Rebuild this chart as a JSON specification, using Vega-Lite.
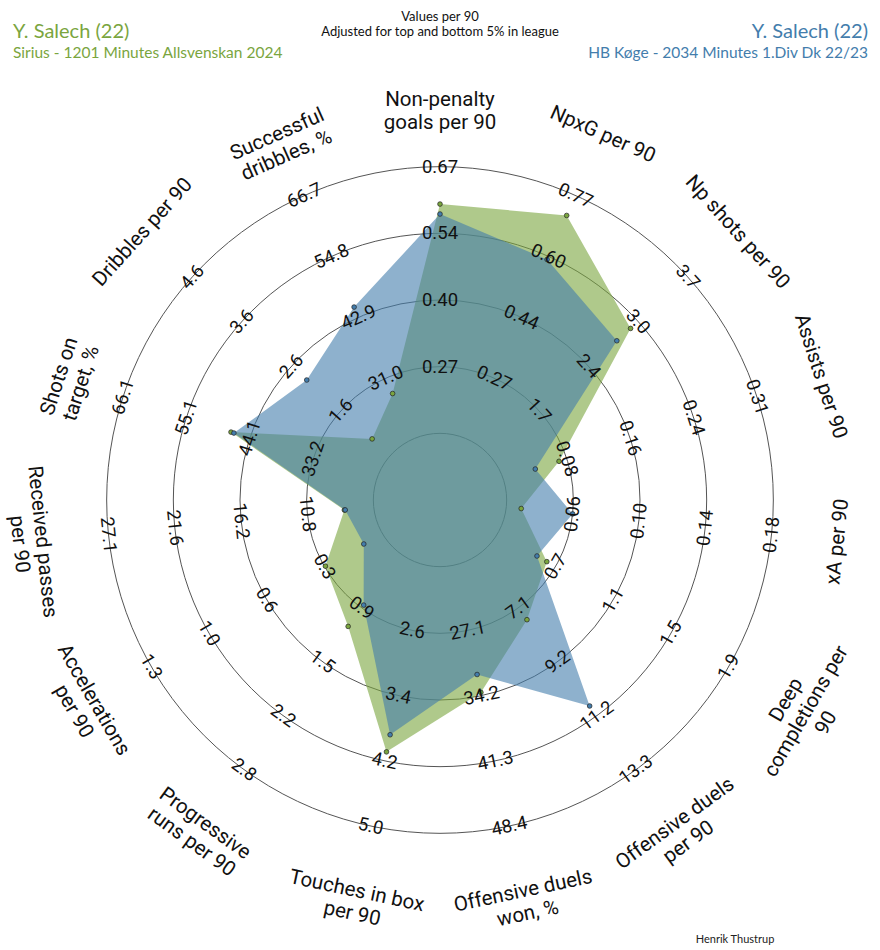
{
  "$schema": "https://vega.github.io/schema/vega-lite/v6.json",
  "width": 880,
  "height": 950,
  "padding": 0,
  "autosize": {"type": "none"},
  "background": "white",
  "config": {"view": {"stroke": null}},
  "datasets": {
    "rings": [{"u": 1}, {"u": 2}, {"u": 3}, {"u": 4}, {"u": 5}],
    "params": [
      {"k": 1, "name": "Non-penalty\ngoals per 90", "lo": 0.135, "hi": 0.67, "l2": "0.27", "l3": "0.40", "l4": "0.54", "l5": "0.67"},
      {"k": 2, "name": "NpxG per 90", "lo": 0.10, "hi": 0.77, "l2": "0.27", "l3": "0.44", "l4": "0.60", "l5": "0.77"},
      {"k": 3, "name": "Np shots per 90", "lo": 1.03, "hi": 3.7, "l2": "1.7", "l3": "2.4", "l4": "3.0", "l5": "3.7"},
      {"k": 4, "name": "Assists per 90", "lo": 0.0, "hi": 0.31, "l2": "0.08", "l3": "0.16", "l4": "0.24", "l5": "0.31"},
      {"k": 5, "name": "xA per 90", "lo": 0.02, "hi": 0.18, "l2": "0.06", "l3": "0.10", "l4": "0.14", "l5": "0.18"},
      {"k": 6, "name": "Deep\ncompletions per\n90", "lo": 0.3, "hi": 1.9, "l2": "0.7", "l3": "1.1", "l4": "1.5", "l5": "1.9"},
      {"k": 7, "name": "Offensive duels\nper 90", "lo": 5.0, "hi": 13.3, "l2": "7.1", "l3": "9.2", "l4": "11.2", "l5": "13.3"},
      {"k": 8, "name": "Offensive duels\nwon, %", "lo": 20.0, "hi": 48.4, "l2": "27.1", "l3": "34.2", "l4": "41.3", "l5": "48.4"},
      {"k": 9, "name": "Touches in box\nper 90", "lo": 1.8, "hi": 5.0, "l2": "2.6", "l3": "3.4", "l4": "4.2", "l5": "5.0"},
      {"k": 10, "name": "Progressive\nruns per 90", "lo": 0.27, "hi": 2.8, "l2": "0.9", "l3": "1.5", "l4": "2.2", "l5": "2.8"},
      {"k": 11, "name": "Accelerations\nper 90", "lo": 0.0, "hi": 1.3, "l2": "0.3", "l3": "0.6", "l4": "1.0", "l5": "1.3"},
      {"k": 12, "name": "Received passes\nper 90", "lo": 5.4, "hi": 27.1, "l2": "10.8", "l3": "16.2", "l4": "21.6", "l5": "27.1"},
      {"k": 13, "name": "Shots on\ntarget, %", "lo": 22.2, "hi": 66.1, "l2": "33.2", "l3": "44.1", "l4": "55.1", "l5": "66.1"},
      {"k": 14, "name": "Dribbles per 90", "lo": 0.6, "hi": 4.6, "l2": "1.6", "l3": "2.6", "l4": "3.6", "l5": "4.6"},
      {"k": 15, "name": "Successful\ndribbles, %", "lo": 19.1, "hi": 66.7, "l2": "31.0", "l3": "42.9", "l4": "54.8", "l5": "66.7"}
    ],
    "vals": [
      {"player": "Sirius", "k": 1, "value": 0.595},
      {"player": "Sirius", "k": 2, "value": 0.715},
      {"player": "Sirius", "k": 3, "value": 2.93},
      {"player": "Sirius", "k": 4, "value": 0.068},
      {"player": "Sirius", "k": 5, "value": 0.029},
      {"player": "Sirius", "k": 6, "value": 0.64},
      {"player": "Sirius", "k": 7, "value": 7.53},
      {"player": "Sirius", "k": 8, "value": 33.85},
      {"player": "Sirius", "k": 9, "value": 4.09},
      {"player": "Sirius", "k": 10, "value": 1.12},
      {"player": "Sirius", "k": 11, "value": 0.32},
      {"player": "Sirius", "k": 12, "value": 7.8},
      {"player": "Sirius", "k": 13, "value": 47.4},
      {"player": "Sirius", "k": 14, "value": 0.97},
      {"player": "Sirius", "k": 15, "value": 28.0},
      {"player": "HB Køge", "k": 1, "value": 0.575},
      {"player": "HB Køge", "k": 2, "value": 0.594},
      {"player": "HB Køge", "k": 3, "value": 2.745},
      {"player": "HB Køge", "k": 4, "value": 0.039},
      {"player": "HB Køge", "k": 5, "value": 0.060},
      {"player": "HB Køge", "k": 6, "value": 0.572},
      {"player": "HB Køge", "k": 7, "value": 10.85},
      {"player": "HB Køge", "k": 8, "value": 31.9},
      {"player": "HB Køge", "k": 9, "value": 3.88},
      {"player": "HB Køge", "k": 10, "value": 0.87},
      {"player": "HB Køge", "k": 11, "value": 0.104},
      {"player": "HB Køge", "k": 12, "value": 7.73},
      {"player": "HB Køge", "k": 13, "value": 46.9},
      {"player": "HB Køge", "k": 14, "value": 2.29},
      {"player": "HB Køge", "k": 15, "value": 44.9}
    ]
  },
  "layer": [
    {
      "data": {"name": "rings"},
      "mark": {"type": "arc", "theta": 0, "theta2": 6.2832, "fill": "transparent", "stroke": "#555", "strokeWidth": 1},
      "encoding": {
        "x": {"datum": 0, "type": "quantitative", "scale": {"domain": [-6.6, 6.6], "nice": false, "zero": false}, "axis": null},
        "y": {"datum": 0, "type": "quantitative", "scale": {"domain": [-6.75, 7.5], "nice": false, "zero": false}, "axis": null},
        "radius": {"field": "u", "type": "quantitative", "stack": null, "scale": {"type": "linear", "domain": [0, 5], "range": [0, 333.33]}}
      }
    },
    {
      "data": {"name": "vals"},
      "transform": [
        {"lookup": "k", "from": {"data": {"name": "params"}, "key": "k", "fields": ["lo", "hi"]}},
        {"calculate": "1 + 4 * (datum.value - datum.lo) / (datum.hi - datum.lo)", "as": "u"},
        {"calculate": "(datum.k - 1) * 24 * PI / 180", "as": "th"},
        {"calculate": "datum.u * sin(datum.th)", "as": "px"},
        {"calculate": "datum.u * cos(datum.th)", "as": "py"}
      ],
      "layer": [
        {
          "transform": [{"filter": "datum.player == 'Sirius'"}],
          "mark": {"type": "line", "filled": true, "color": "#7aa53e", "fillOpacity": 0.6, "strokeWidth": 0},
          "encoding": {
            "x": {"field": "px", "type": "quantitative", "scale": {"domain": [-6.6, 6.6], "nice": false, "zero": false}, "axis": null},
            "y": {"field": "py", "type": "quantitative", "scale": {"domain": [-6.75, 7.5], "nice": false, "zero": false}, "axis": null},
            "order": {"field": "k", "type": "quantitative"}
          }
        },
        {
          "transform": [{"filter": "datum.player == 'HB Køge'"}],
          "mark": {"type": "line", "filled": true, "color": "#437dac", "fillOpacity": 0.6, "strokeWidth": 0},
          "encoding": {
            "x": {"field": "px", "type": "quantitative", "scale": {"domain": [-6.6, 6.6], "nice": false, "zero": false}, "axis": null},
            "y": {"field": "py", "type": "quantitative", "scale": {"domain": [-6.75, 7.5], "nice": false, "zero": false}, "axis": null},
            "order": {"field": "k", "type": "quantitative"}
          }
        },
        {
          "mark": {"type": "point", "filled": true, "size": 22, "stroke": "#222", "strokeWidth": 0.7, "opacity": 1},
          "encoding": {
            "x": {"field": "px", "type": "quantitative", "scale": {"domain": [-6.6, 6.6], "nice": false, "zero": false}, "axis": null},
            "y": {"field": "py", "type": "quantitative", "scale": {"domain": [-6.75, 7.5], "nice": false, "zero": false}, "axis": null},
            "fill": {"field": "player", "type": "nominal", "scale": {"domain": ["Sirius", "HB Køge"], "range": ["#7aa53e", "#437dac"]}, "legend": null}
          }
        }
      ]
    },
    {
      "data": {"name": "params"},
      "transform": [
        {"fold": ["l2", "l3", "l4", "l5"], "as": ["key", "lab"]},
        {"calculate": "toNumber(substring(datum.key, 1))", "as": "u"},
        {"calculate": "(datum.k - 1) * 24", "as": "deg"},
        {"calculate": "datum.deg * PI / 180", "as": "th"},
        {"calculate": "datum.u * sin(datum.th)", "as": "px"},
        {"calculate": "datum.u * cos(datum.th)", "as": "py"},
        {"calculate": "datum.deg > 90 && datum.deg < 270 ? datum.deg - 180 : datum.deg", "as": "rot"}
      ],
      "mark": {"type": "text", "font": "Roboto", "fontSize": 18.5, "color": "#111", "align": "center", "baseline": "middle"},
      "encoding": {
        "x": {"field": "px", "type": "quantitative", "scale": {"domain": [-6.6, 6.6], "nice": false, "zero": false}, "axis": null},
        "y": {"field": "py", "type": "quantitative", "scale": {"domain": [-6.75, 7.5], "nice": false, "zero": false}, "axis": null},
        "text": {"field": "lab"},
        "angle": {"field": "rot", "type": "quantitative", "scale": null}
      }
    },
    {
      "data": {"name": "params"},
      "transform": [
        {"calculate": "(datum.k - 1) * 24", "as": "deg"},
        {"calculate": "datum.deg * PI / 180", "as": "th"},
        {"calculate": "6 * sin(datum.th)", "as": "px"},
        {"calculate": "6 * cos(datum.th)", "as": "py"},
        {"calculate": "datum.deg > 90 && datum.deg < 270 ? datum.deg - 180 : datum.deg", "as": "rot"}
      ],
      "mark": {"type": "text", "font": "Roboto", "fontSize": 20.5, "lineHeight": 23, "lineBreak": "\n", "color": "#111", "align": "center", "baseline": "middle"},
      "encoding": {
        "x": {"field": "px", "type": "quantitative", "scale": {"domain": [-6.6, 6.6], "nice": false, "zero": false}, "axis": null},
        "y": {"field": "py", "type": "quantitative", "scale": {"domain": [-6.75, 7.5], "nice": false, "zero": false}, "axis": null},
        "text": {"field": "name"},
        "angle": {"field": "rot", "type": "quantitative", "scale": null}
      }
    },
    {
      "data": {"values": [{"t": "Values per 90\nAdjusted for top and bottom 5% in league"}]},
      "mark": {"type": "text", "font": "Lato", "fontSize": 13, "lineHeight": 15, "lineBreak": "\n", "color": "#111", "align": "center", "baseline": "middle"},
      "encoding": {
        "x": {"datum": 0, "type": "quantitative", "scale": {"domain": [-6.6, 6.6], "nice": false, "zero": false}, "axis": null},
        "y": {"datum": 7.245, "type": "quantitative", "scale": {"domain": [-6.75, 7.5], "nice": false, "zero": false}, "axis": null},
        "text": {"field": "t"}
      }
    },
    {
      "data": {"values": [{"t": "Y. Salech (22)"}]},
      "mark": {"type": "text", "font": "Lato", "fontSize": 20, "color": "#7aa53e", "align": "left", "baseline": "middle"},
      "encoding": {
        "x": {"datum": -6.405, "type": "quantitative", "scale": {"domain": [-6.6, 6.6], "nice": false, "zero": false}, "axis": null},
        "y": {"datum": 7.02, "type": "quantitative", "scale": {"domain": [-6.75, 7.5], "nice": false, "zero": false}, "axis": null},
        "text": {"field": "t"}
      }
    },
    {
      "data": {"values": [{"t": "Sirius - 1201 Minutes Allsvenskan 2024"}]},
      "mark": {"type": "text", "font": "Lato", "fontSize": 15.5, "color": "#7aa53e", "align": "left", "baseline": "middle"},
      "encoding": {
        "x": {"datum": -6.405, "type": "quantitative", "scale": {"domain": [-6.6, 6.6], "nice": false, "zero": false}, "axis": null},
        "y": {"datum": 6.705, "type": "quantitative", "scale": {"domain": [-6.75, 7.5], "nice": false, "zero": false}, "axis": null},
        "text": {"field": "t"}
      }
    },
    {
      "data": {"values": [{"t": "Y. Salech (22)"}]},
      "mark": {"type": "text", "font": "Lato", "fontSize": 20, "color": "#437dac", "align": "right", "baseline": "middle"},
      "encoding": {
        "x": {"datum": 6.42, "type": "quantitative", "scale": {"domain": [-6.6, 6.6], "nice": false, "zero": false}, "axis": null},
        "y": {"datum": 7.02, "type": "quantitative", "scale": {"domain": [-6.75, 7.5], "nice": false, "zero": false}, "axis": null},
        "text": {"field": "t"}
      }
    },
    {
      "data": {"values": [{"t": "HB Køge - 2034 Minutes 1.Div Dk 22/23"}]},
      "mark": {"type": "text", "font": "Lato", "fontSize": 15.5, "color": "#437dac", "align": "right", "baseline": "middle"},
      "encoding": {
        "x": {"datum": 6.42, "type": "quantitative", "scale": {"domain": [-6.6, 6.6], "nice": false, "zero": false}, "axis": null},
        "y": {"datum": 6.705, "type": "quantitative", "scale": {"domain": [-6.75, 7.5], "nice": false, "zero": false}, "axis": null},
        "text": {"field": "t"}
      }
    },
    {
      "data": {"values": [{"t": "Henrik Thustrup"}]},
      "mark": {"type": "text", "font": "Lato", "fontSize": 11, "color": "#222", "align": "center", "baseline": "middle"},
      "encoding": {
        "x": {"datum": 4.425, "type": "quantitative", "scale": {"domain": [-6.6, 6.6], "nice": false, "zero": false}, "axis": null},
        "y": {"datum": -6.6, "type": "quantitative", "scale": {"domain": [-6.75, 7.5], "nice": false, "zero": false}, "axis": null},
        "text": {"field": "t"}
      }
    }
  ]
}
